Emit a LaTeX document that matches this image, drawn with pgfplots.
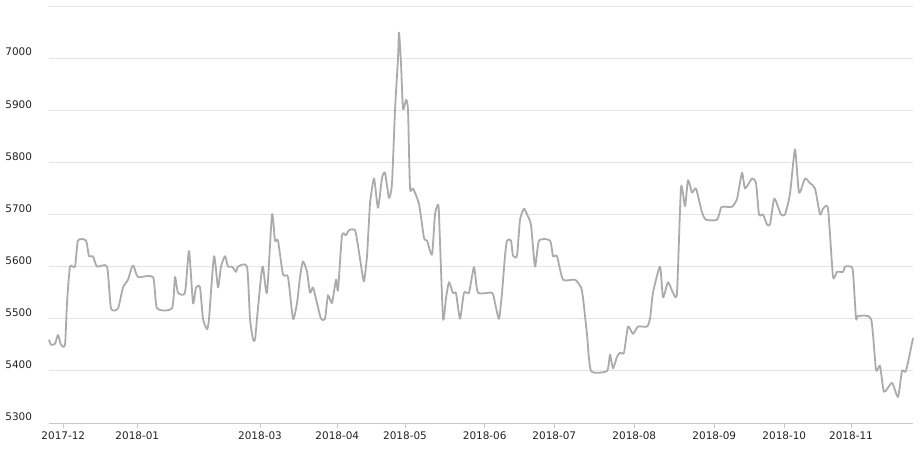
\documentclass[border=0pt]{standalone}
\usepackage{pgfplots}
\pgfplotsset{compat=1.18}
\usepackage{fontspec}
\setmainfont{DejaVu Sans}
\definecolor{linec}{HTML}{ABABAB}
\definecolor{gridc}{HTML}{E3E3E3}
\definecolor{axisc}{HTML}{C8C8C8}
\definecolor{textc}{HTML}{222222}
\begin{document}
\begin{tikzpicture}
\useasboundingbox (0,0) rectangle (921bp,452bp);
\begin{axis}[
  at={(49bp,29bp)}, anchor=south west,
  scale only axis, width=864bp, height=417bp,
  xmin=49, xmax=913, ymin=5300, ymax=6100,
  axis x line*=bottom, axis y line*=left,
  separate axis lines,
  x axis line style={draw=axisc, line width=0.8bp, -},
  y axis line style={draw=none},
  ytick={5300,5400,5500,5600,5700,5800,5900,6000,6100},
  yticklabels={5300,5400,5500,5600,5700,5800,5900,7000,{}},
  xtick={63.3,137.3,260,337.3,405,484.7,554.3,634.3,714.3,784.3,851},
  xticklabels={2017-12,2018-01,2018-03,2018-04,2018-05,2018-06,2018-07,2018-08,2018-09,2018-10,2018-11},
  ymajorgrids, grid style={draw=gridc, line width=0.8bp},
  ytick style={draw=none},
  xtick style={draw=axisc, line width=0.8bp},
  tick align=outside, major tick length=5bp,
  ticklabel style={font=\fontsize{10.5}{12}\selectfont, text=textc},
  yticklabel style={anchor=east, xshift=-8.5bp, yshift=6bp},
  clip=false,
]
\addplot[color=linec, line width=1.8bp, smooth, tension=0.35, mark=none, line join=round] coordinates {
(49,5460) (51,5450) (55,5452) (58,5469) (61,5450) (65,5450) (67,5530) (70,5600) (75,5600)
(78,5650) (86,5650) (89,5620) (93,5620) (97,5600) (107,5600) (111,5520) (118,5520)
(123,5560) (128,5575) (132,5600) (134,5600) (138,5580) (153,5580) (157,5520) (172,5520)
(175,5580) (178,5550) (185,5550) (189,5630) (193,5530) (196,5560) (200,5560) (203,5500)
(207,5480) (209,5500) (214,5620) (218,5560) (221,5600) (225,5620) (228,5600) (232,5600)
(236,5590) (238,5600) (247,5600) (250,5500) (253,5460) (255,5460) (257,5500) (261,5580)
(263,5600) (267,5550) (272,5700) (275,5650) (278,5650) (283,5585) (288,5580) (293,5500)
(297,5530) (300,5580) (303,5610) (307,5590) (310,5550) (313,5560) (317,5530) (321,5500)
(325,5500) (328,5545) (332,5530) (336,5575) (338,5555) (342,5660) (346,5660) (349,5670)
(355,5670) (358,5640) (362,5590) (364,5572) (367,5620) (370,5720) (374,5769) (378,5713)
(382,5770) (385,5780) (389,5732) (392,5760) (395,5900) (398,6000) (399,6049) (401,5990)
(403,5902) (406,5920) (408,5900) (410,5751) (413,5750) (419,5720) (424,5655) (427,5650)
(432,5623) (435,5700) (438,5719) (439,5700) (443,5501) (446,5540) (449,5570) (453,5549)
(456,5549) (460,5500) (464,5550) (469,5550) (474,5599) (478,5550) (492,5550) (495,5530)
(499,5500) (502,5550) (505,5620) (507,5650) (511,5650) (513,5621) (517,5621) (520,5690)
(524,5711) (527,5700) (531,5680) (535,5600) (539,5650) (550,5650) (553,5620) (557,5620)
(563,5575) (575,5575) (581,5560) (583,5540) (587,5470) (591,5400) (607,5400) (610,5431)
(613,5405) (617,5427) (620,5435) (624,5435) (628,5485) (633,5471) (638,5485) (647,5485)
(650,5500) (653,5550) (660,5600) (663,5541) (668,5570) (673,5550) (677,5550) (681,5752)
(685,5716) (688,5766) (692,5742) (696,5750) (702,5704) (706,5690) (717,5690) (721,5713)
(724,5715) (732,5715) (737,5730) (742,5780) (745,5750) (752,5769) (756,5760) (759,5700)
(763,5700) (767,5681) (770,5681) (774,5730) (777,5720) (781,5700) (785,5700) (790,5740)
(795,5825) (799,5742) (805,5769) (810,5760) (815,5750) (820,5700) (823,5711) (828,5711)
(833,5581) (837,5590) (843,5590) (845,5600) (851,5600) (853,5590) (856,5501) (858,5505)
(871,5500) (876,5402) (880,5410) (884,5360) (892,5377) (898,5350) (902,5400) (906,5400)
(913,5463)
};
\end{axis}
\end{tikzpicture}
\end{document}
